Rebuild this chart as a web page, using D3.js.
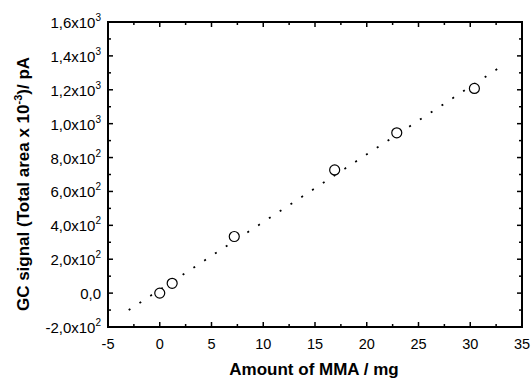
<!DOCTYPE html>
<html><head><meta charset="utf-8">
<script src="https://cdn.jsdelivr.net/npm/d3@7"></script>
<style>body{margin:0;background:#fff}svg{display:block}</style>
</head><body>
<svg id="c" width="531" height="379"></svg>
<script>
const massMMA = [0, 1.2, 7.2, 16.9, 22.9, 30.4];
const gcSignal = [0, 58, 334, 727, 946, 1208];
const fitX = [-3, 32.6];
const fitY = [-100, 1322];
const xTicks = [-5, 0, 5, 10, 15, 20, 25, 30, 35];
const yTicks = [-200, 0, 200, 400, 600, 800, 1000, 1200, 1400, 1600];
const yTickMantissa = ["-2,0", "0,0", "2,0", "4,0", "6,0", "8,0", "1,0", "1,2", "1,4", "1,6"];
const yTickExp = ["2", "", "2", "2", "2", "2", "3", "3", "3", "3"];

const L = 108, R = 522, T = 22, B = 327;
const svg = d3.select("#c");
const x = d3.scaleLinear().domain([-5, 35]).range([L, R]);
const y = d3.scaleLinear().domain([-200, 1600]).range([B, T]);
const font = "Liberation Sans, Arial, sans-serif";

const xMinor = d3.range(-2.5, 35, 5);
const yMinor = d3.range(-100, 1600, 200);

const g = svg.append("g").attr("stroke", "#000").attr("stroke-width", 1.5);
xTicks.forEach(v => {
  g.append("line").attr("x1", x(v)).attr("x2", x(v)).attr("y1", B).attr("y2", B - 5);
  g.append("line").attr("x1", x(v)).attr("x2", x(v)).attr("y1", T).attr("y2", T + 5);
});
xMinor.forEach(v => {
  g.append("line").attr("x1", x(v)).attr("x2", x(v)).attr("y1", B).attr("y2", B - 3);
  g.append("line").attr("x1", x(v)).attr("x2", x(v)).attr("y1", T).attr("y2", T + 3);
});
yTicks.forEach(v => {
  g.append("line").attr("x1", L).attr("x2", L + 5).attr("y1", y(v)).attr("y2", y(v));
  g.append("line").attr("x1", R).attr("x2", R - 5).attr("y1", y(v)).attr("y2", y(v));
});
yMinor.forEach(v => {
  g.append("line").attr("x1", L).attr("x2", L + 3).attr("y1", y(v)).attr("y2", y(v));
  g.append("line").attr("x1", R).attr("x2", R - 3).attr("y1", y(v)).attr("y2", y(v));
});

const line = d3.line().x(d => x(d[0])).y(d => y(d[1]));
const fit = svg.append("path").datum(fitX.map((v, i) => [v, fitY[i]]))
  .attr("d", line).attr("fill", "none").attr("stroke", "#000")
  .attr("stroke-width", 1.8);
const len = fit.node().getTotalLength();
const nDots = Math.round((len - 2) / 13);
const period = (len - 2) / nDots;
fit.attr("stroke-dasharray", "2," + (period - 2));

svg.selectAll("circle.pt").data(massMMA).enter().append("circle")
  .attr("cx", d => x(d)).attr("cy", (d, i) => y(gcSignal[i])).attr("r", 5)
  .attr("fill", "#fff").attr("stroke", "#000").attr("stroke-width", 1.2);

svg.append("rect").attr("x", L).attr("y", T).attr("width", R - L).attr("height", B - T)
  .attr("fill", "none").attr("stroke", "#000").attr("stroke-width", 2);

svg.selectAll("text.xt").data(xTicks).enter().append("text")
  .attr("x", d => x(d)).attr("y", B + 22).attr("text-anchor", "middle")
  .attr("font-family", font).attr("font-size", 14.5).text(d => d);

yTicks.forEach((v, i) => {
  const t = svg.append("text").attr("x", 101).attr("y", y(v) + 6)
    .attr("text-anchor", "end").attr("font-family", font).attr("font-size", 15);
  if (yTickExp[i]) {
    t.append("tspan").text(yTickMantissa[i] + "x10");
    t.append("tspan").attr("font-size", 10).attr("dy", -7).text(yTickExp[i]);
  } else {
    t.text(yTickMantissa[i]);
  }
});

svg.append("text").attr("x", 314).attr("y", 375).attr("text-anchor", "middle")
  .attr("font-family", font).attr("font-size", 17).attr("font-weight", "bold")
  .text("Amount of MMA / mg");
const yt = svg.append("text").attr("transform", "translate(29," + 184 + ") rotate(-90)")
  .attr("text-anchor", "middle").attr("font-family", font).attr("font-size", 17)
  .attr("font-weight", "bold");
yt.append("tspan").text("GC signal (Total area x 10");
yt.append("tspan").attr("font-size", 11).attr("dy", -7).text("-3");
yt.append("tspan").attr("dy", 7).text(")/  pA");
</script>
</body></html>
